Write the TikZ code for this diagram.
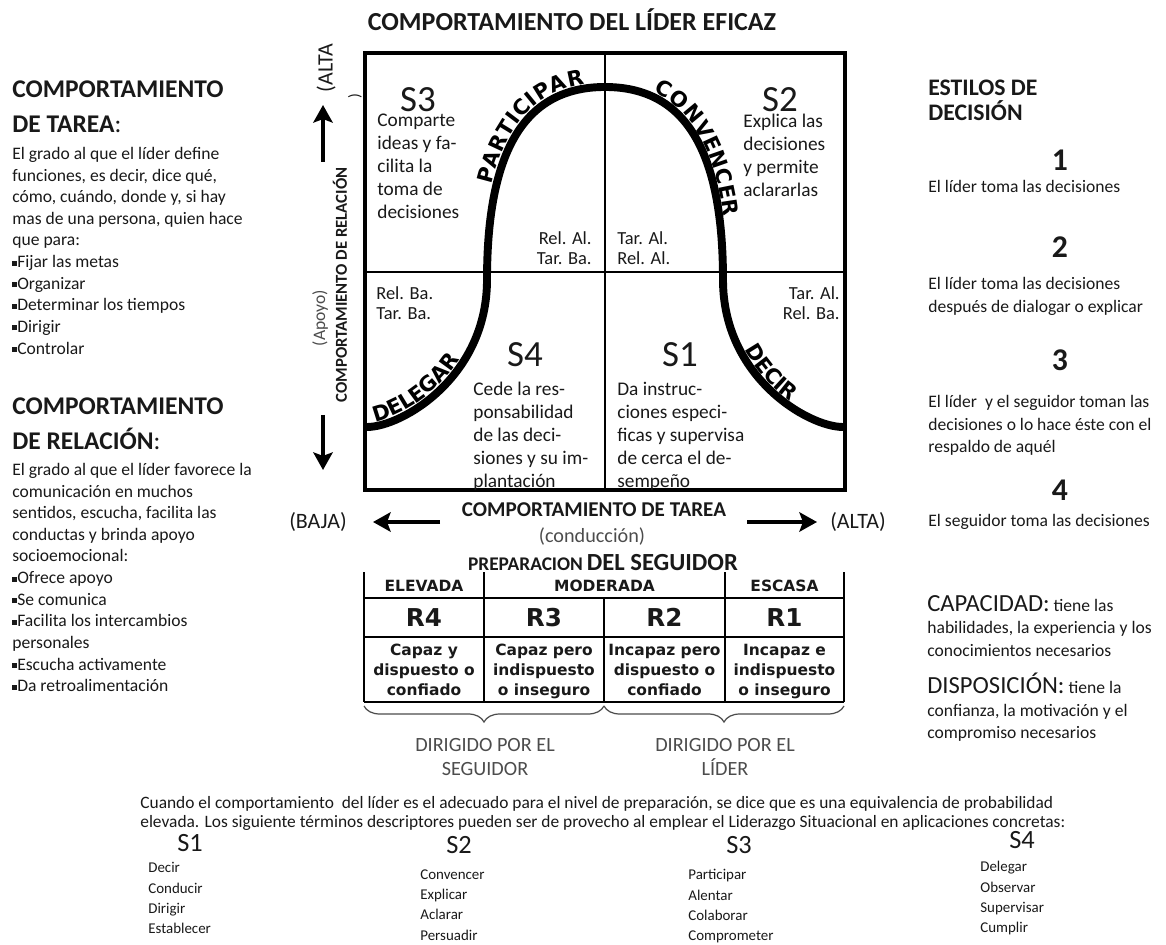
\documentclass[tikz,border=0pt]{standalone}
\usepackage{fontspec}
\setmainfont{Carlito}
\newfontfamily\heavyfont{DejaVu Sans}
\usetikzlibrary{arrows.meta,decorations.text,decorations.pathreplacing}
\definecolor{TextClr}{rgb}{0.1,0.1,0.1}
\definecolor{SoftClr}{rgb}{0.3,0.3,0.3}

\newcommand{\fsz}[2]{\fontsize{#1}{#2}\selectfont}
\newcommand{\sqb}{\raisebox{0.25ex}{\rule{0.28em}{0.28em}}}
\newcommand{\curvefont}{\heavyfont\bfseries\fsz{12}{12}}

\tikzset{
  every node/.style={inner sep=0pt,text=TextClr},
  lefttxt/.style={anchor=north west,align=left},
  head/.style={lefttxt,font=\bfseries\fsz{14.5}{20}},
  body/.style={lefttxt,font=\fsz{10}{12.3}},
  quad/.style={lefttxt,font=\fsz{11}{13}},
  relabel/.style={align=left,font=\fsz{10.5}{11.3}},
  sbig/.style={font=\fsz{21}{21}},
  decnum/.style={font=\bfseries\fsz{18}{18}},
  rbody/.style={lefttxt,font=\fsz{10}{12.8}},
  tabhead/.style={text height=6.5pt,text depth=0pt,font=\heavyfont\bfseries\fsz{8.8}{9}},
  tabr/.style={text height=10.2pt,text depth=0pt,font=\heavyfont\bfseries\fsz{14}{14}},
  tabdesc/.style={anchor=north,align=center,font=\heavyfont\bfseries\fsz{8.8}{11.3}},
  words/.style={lefttxt,font=\fsz{8.5}{11.6}},
  axisarrow/.style={line width=2pt,-{Stealth[length=10pt,width=11pt,inset=2pt]}},
  curvelabel/.style={decorate,decoration={text along path,raise=2.5pt,text align={left indent=#1}}},
  tabline/.style={line width=0.9pt},
  brace/.style={decorate,decoration={brace,mirror,amplitude=0.32cm},line width=0.7pt,SoftClr},
}

\begin{document}
\begin{tikzpicture}[x=0.02cm,y=-0.02cm]
\useasboundingbox (0,0) rectangle (1166,945);

\node[font=\bfseries\fsz{14.8}{15}] (title) at (572,20) {COMPORTAMIENTO DEL LÍDER EFICAZ};

% cuadrantes
\draw[line width=2.4pt] (365,53) rectangle (845,490);
\draw[line width=0.8pt] (605,53) -- (605,490) (365,272) -- (845,272);
\draw[line width=4.5pt] (367,427) .. controls (402,427) and (487,377) .. (487,280)
  .. controls (487,150) and (525,87) .. (605,87)
  .. controls (685,87) and (723,150) .. (723,280)
  .. controls (723,377) and (808,427) .. (843,427);

\path[curvelabel=0.2cm,decoration={text={|\curvefont|DELEGAR}}]
  (367,427) .. controls (402,427) and (487,377) .. (487,280);
\path[curvelabel=1.9cm,decoration={text={|\curvefont|PARTICIPAR}}]
  (487,280) .. controls (487,150) and (525,87) .. (605,87);
\path[curvelabel=0.95cm,decoration={text={|\curvefont|CONVENCER}}]
  (605,87) .. controls (685,87) and (723,150) .. (723,280);
\path[curvelabel=1.5cm,decoration={text={|\curvefont|DECIR}}]
  (723,280) .. controls (723,377) and (808,427) .. (843,427);

\node[sbig] (s3) at (418,100) {S3};
\node[quad] (s3txt) at (377,114) {Comparte\\ideas y fa-\\cilita la\\toma de\\decisiones};
\node[sbig] (s2) at (780,100) {S2};
\node[quad] (s2txt) at (743,114) {Explica las\\decisiones\\y permite\\aclararlas};
\node[sbig] (s4) at (525,355) {S4};
\node[quad] (s4txt) at (473,382) {Cede la res-\\ponsabilidad\\de las deci-\\siones y su im-\\plantación};
\node[sbig] (s1) at (680,355) {S1};
\node[quad] (s1txt) at (617,382) {Da instruc-\\ciones especi-\\ficas y supervisa\\de cerca el de-\\sempeño};

\node[relabel,anchor=north east,align=right] (relAlTarBa) at (592,231) {Rel. Al.\\Tar. Ba.};
\node[relabel,anchor=north west] (tarAlRelAl) at (617,231) {Tar. Al.\\Rel. Al.};
\node[relabel,anchor=north west] (relBaTarBa) at (376,286) {Rel. Ba.\\Tar. Ba.};
\node[relabel,anchor=north east,align=right] (tarAlRelBa) at (840,286) {Tar. Al.\\Rel. Ba.};

% ejes
\node[rotate=90,font=\fsz{12.5}{13}] (relHigh) at (326,68) {(ALTA};
\node[rotate=90,font=\fsz{9}{9}] (relHighClose) at (355,96) {)};
\coordinate (upTail) at (323,162);
\coordinate (upTip) at (323,105);
\draw[axisarrow] (upTail) -- (upTip);
\node[rotate=90,font=\bfseries\fsz{9.5}{10}] (relAxis) at (340,285) {COMPORTAMIENTO DE RELACIÓN};
\node[rotate=90,font=\fsz{10}{10},text=SoftClr] (support) at (320,318) {(Apoyo)};
\coordinate (downTail) at (323,415);
\coordinate (downTip) at (323,470);
\draw[axisarrow] (downTail) -- (downTip);
\node[font=\fsz{12.5}{13}] (relLow) at (318,522) {(BAJA)};

\coordinate (leftTail) at (440,522);
\coordinate (leftTip) at (373,522);
\draw[axisarrow] (leftTail) -- (leftTip);
\node[font=\bfseries\fsz{12}{12}] (taskAxis) at (594,510) {COMPORTAMIENTO DE TAREA};
\node[font=\fsz{11.5}{12},text=SoftClr] (guidance) at (592,537) {(conducción)};
\coordinate (rightTail) at (747,522);
\coordinate (rightTip) at (817,522);
\draw[axisarrow] (rightTail) -- (rightTip);
\node[font=\fsz{12.5}{13}] (taskHigh) at (858,522) {(ALTA)};

% preparacion
\node[font=\bfseries] (prep) at (603,563) {{\fsz{11}{12}PREPARACION} {\fsz{14}{14}DEL SEGUIDOR}};
\draw[tabline] (364,572) -- (364,702) (484,572) -- (484,702) (604,598) -- (604,702)
  (725,572) -- (725,702) (844,572) -- (844,702);
\draw[tabline] (364,598) -- (844,598);
\draw[line width=1.3pt] (364,637) -- (844,637) (364,702) -- (844,702);

\node[tabhead] (high) at (424,586) {ELEVADA};
\node[tabhead] (moderate) at (604.5,586) {MODERADA};
\node[tabhead] (low) at (784.5,586) {ESCASA};
\node[tabr] (r4) at (424,618) {R4};
\node[tabr] (r3) at (544,618) {R3};
\node[tabr] (r2) at (664.5,618) {R2};
\node[tabr] (r1) at (784.5,618) {R1};
\node[tabdesc] (r4txt) at (424,644) {Capaz y\\dispuesto o\\confiado};
\node[tabdesc] (r3txt) at (544,644) {Capaz pero\\indispuesto\\o inseguro};
\node[tabdesc] (r2txt) at (664.5,644) {Incapaz pero\\dispuesto o\\confiado};
\node[tabdesc] (r1txt) at (784.5,644) {Incapaz e\\indispuesto\\o inseguro};

\coordinate (braceA) at (364,706);
\coordinate (braceB) at (604,706);
\coordinate (braceC) at (844,706);
\draw[brace] (braceA) -- (braceB);
\draw[brace] (braceB) -- (braceC);
\node[align=center,font=\fsz{11.5}{14},text=SoftClr] (byFollower) at (485,757) {DIRIGIDO POR EL\\SEGUIDOR};
\node[align=center,font=\fsz{11.5}{14},text=SoftClr] (byLeader) at (725,757) {DIRIGIDO POR EL\\LÍDER};

% columna izquierda
\node[head] (taskHead) at (12,80) {COMPORTAMIENTO\\DE TAREA\textmd{:}};
\node[body] (taskBody) at (12,147) {El grado al que el líder define\\funciones, es decir, dice qué,\\cómo, cuándo, donde y, si hay\\mas de una persona, quien hace\\que para:\\\sqb Fijar las metas\\\sqb Organizar\\\sqb Determinar los tiempos\\\sqb Dirigir\\\sqb Controlar};
\node[head] (relHead) at (12,397) {COMPORTAMIENTO\\DE RELACIÓN\textmd{:}};
\node[body] (relBody) at (12,463) {El grado al que el líder favorece la\\comunicación en muchos\\sentidos, escucha, facilita las\\conductas y brinda apoyo\\socioemocional:\\\sqb Ofrece apoyo\\\sqb Se comunica\\\sqb Facilita los intercambios\\personales\\\sqb Escucha activamente\\\sqb Da retroalimentación};

% columna derecha
\node[lefttxt,font=\bfseries\fsz{13.5}{14.2}] (styleHead) at (928,80) {ESTILOS DE\\DECISIÓN};
\node[decnum] (d1) at (1060,160) {1};
\node[rbody] (d1txt) at (928,180) {El líder toma las decisiones};
\node[decnum] (d2) at (1060,247) {2};
\node[rbody] (d2txt) at (928,277) {El líder toma las decisiones\\después de dialogar o explicar};
\node[decnum] (d3) at (1060,360) {3};
\node[rbody] (d3txt) at (928,395) {El líder \ y el seguidor toman las\\decisiones o lo hace éste con el\\respaldo de aquél};
\node[decnum] (d4) at (1060,490) {4};
\node[rbody] (d4txt) at (928,514) {El seguidor toma las decisiones};

\node[rbody] (capacity) at (927,595) {{\fsz{14}{14}CAPACIDAD:} tiene las\\habilidades, la experiencia y los\\conocimientos necesarios};
\node[rbody] (willing) at (927,673) {{\fsz{14}{14}DISPOSICIÓN:} tiene la\\confianza, la motivación y el\\compromiso necesarios};

% pie
\node[lefttxt,font=\fsz{9.9}{10.8}] (note) at (140,796) {Cuando el comportamiento \ del líder es el adecuado para el nivel de preparación, se dice que es una equivalencia de probabilidad\\elevada. Los siguiente términos descriptores pueden ser de provecho al emplear el Liderazgo Situacional en aplicaciones concretas:};
\node[font=\fsz{15}{15}] (f1) at (190,843) {S1};
\node[font=\fsz{15}{15}] (f2) at (459,845) {S2};
\node[font=\fsz{15}{15}] (f3) at (739,845) {S3};
\node[font=\fsz{15}{15}] (f4) at (1022,840) {S4};
\node[words] (f1txt) at (148,862) {Decir\\Conducir\\Dirigir\\Establecer};
\node[words] (f2txt) at (420,869) {Convencer\\Explicar\\Aclarar\\Persuadir};
\node[words] (f3txt) at (688,869) {Participar\\Alentar\\Colaborar\\Comprometer};
\node[words] (f4txt) at (980,861) {Delegar\\Observar\\Supervisar\\Cumplir};
\end{tikzpicture}
\end{document}
